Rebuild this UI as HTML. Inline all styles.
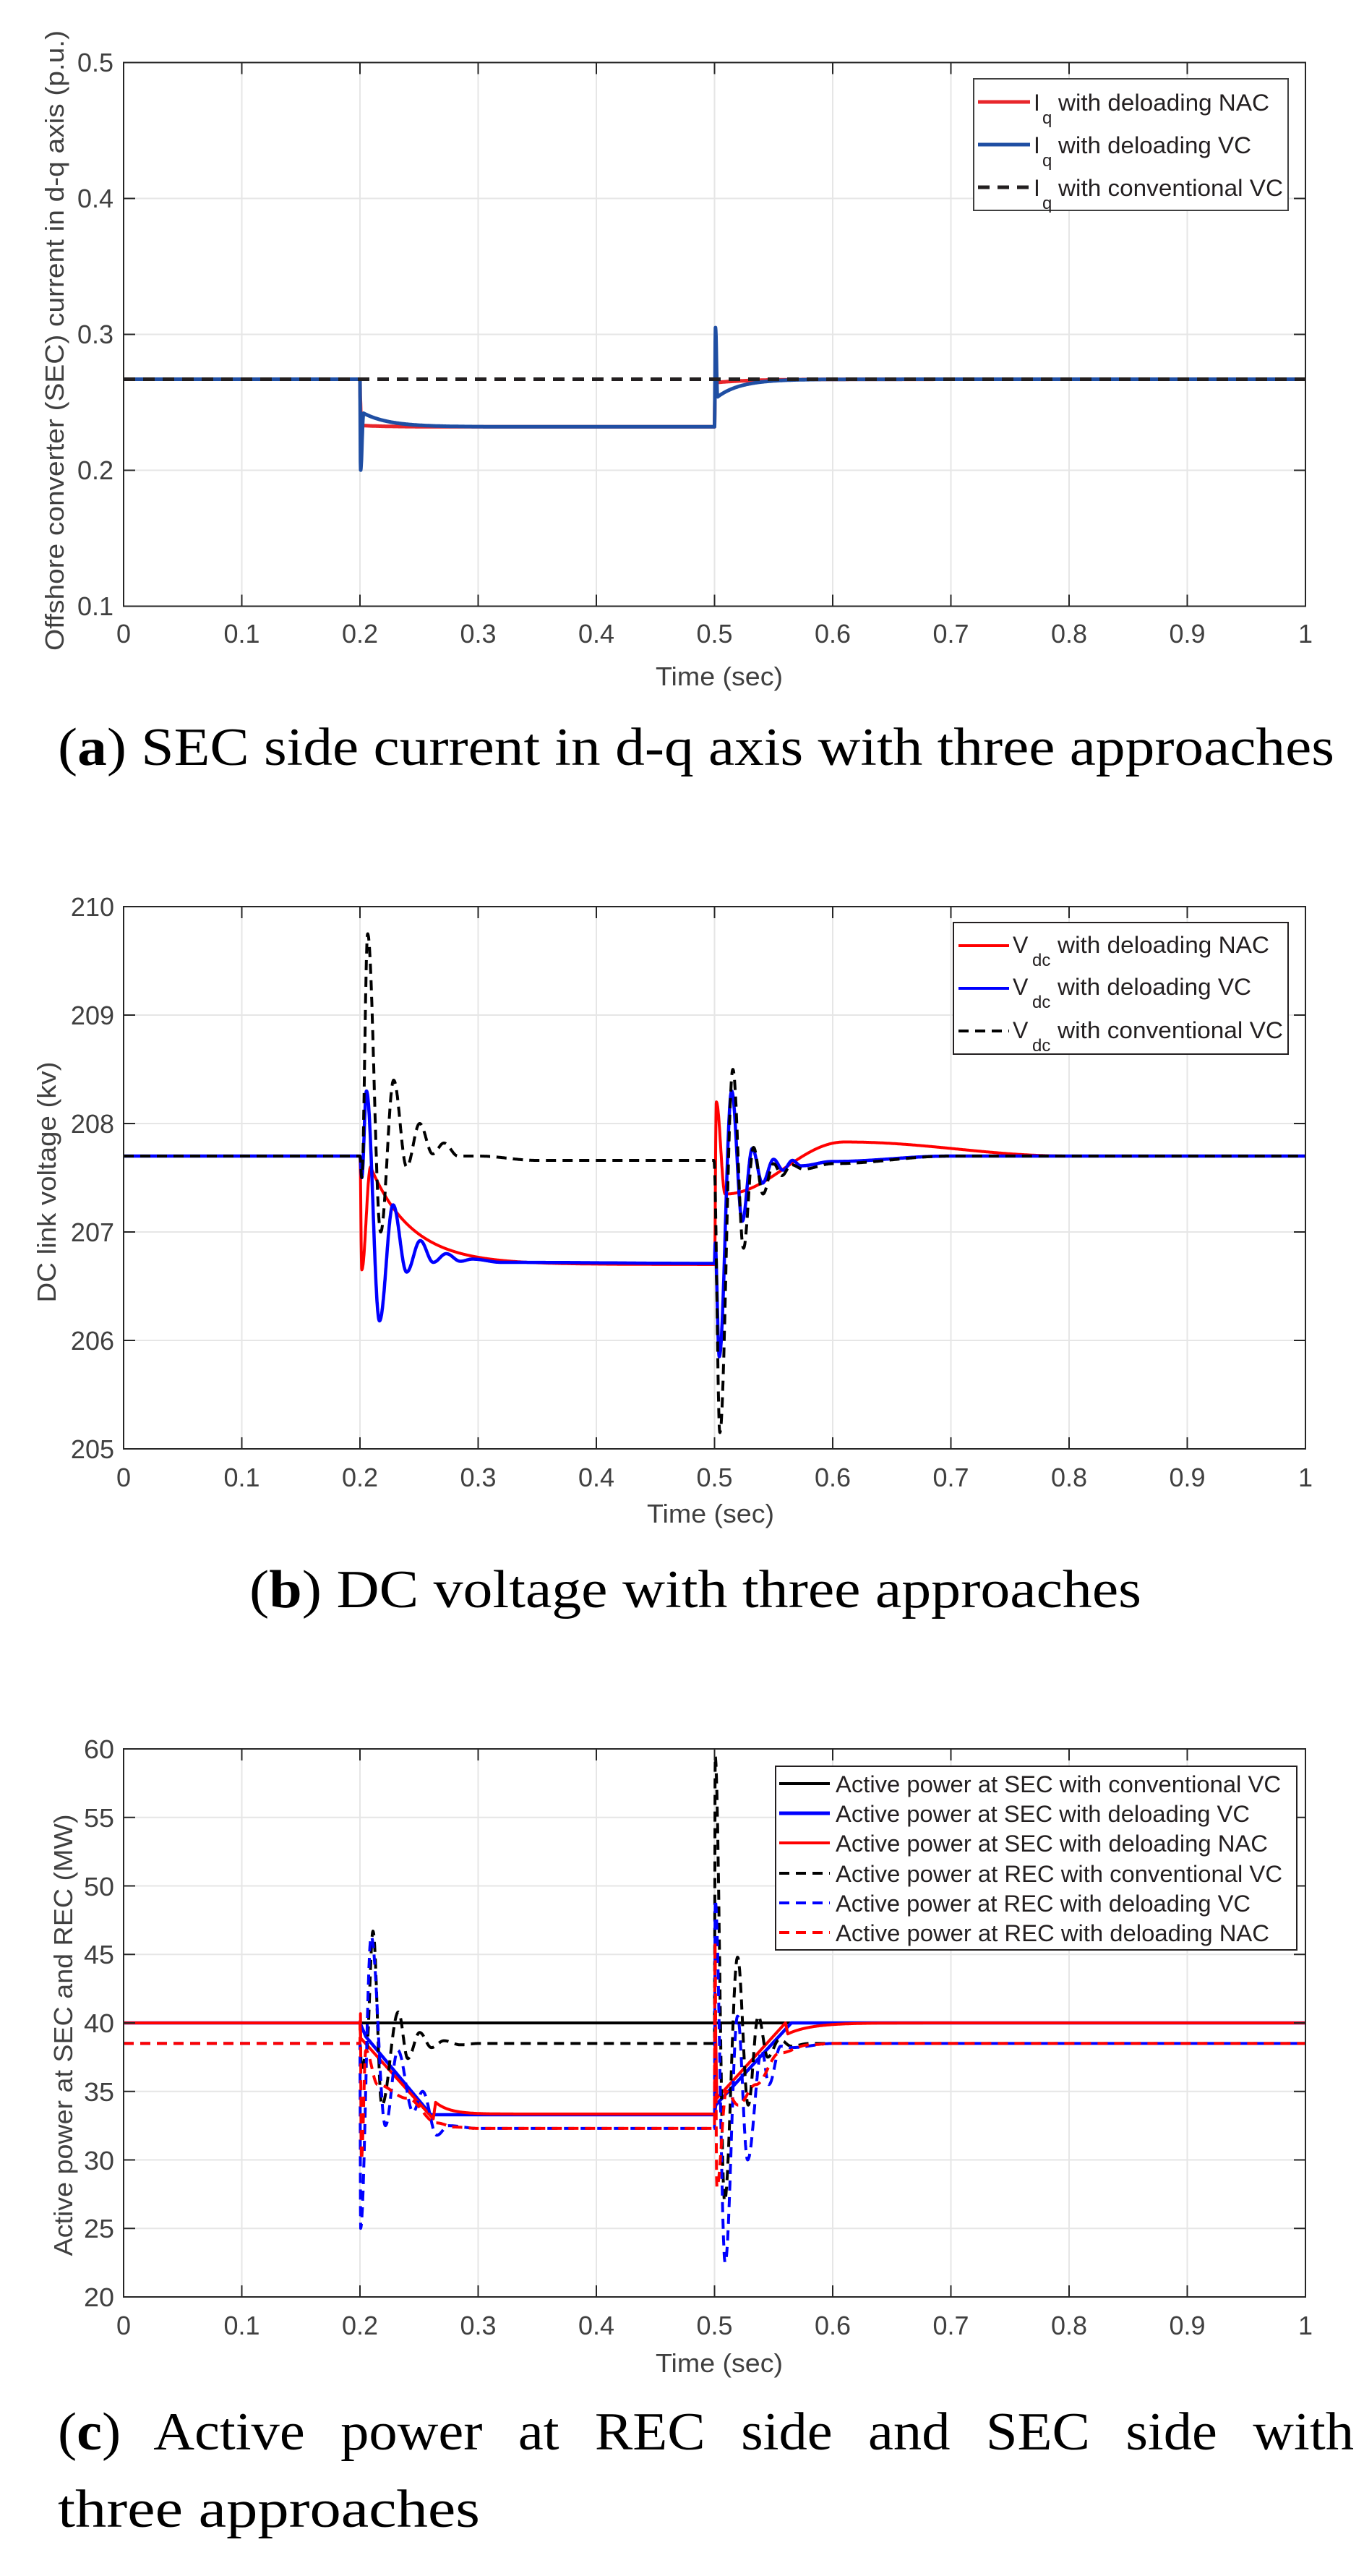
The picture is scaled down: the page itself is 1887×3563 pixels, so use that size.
<!DOCTYPE html>
<html><head><meta charset="utf-8"><style>
html,body{margin:0;padding:0;background:#fff;}
svg{display:block;}
.tk{font-family:"Liberation Sans",sans-serif;font-size:36px;fill:#404040;}
.lg{font-family:"Liberation Sans",sans-serif;font-size:32px;fill:#231f20;}
.cap{font-family:"Liberation Serif",serif;font-size:74px;fill:#000;}
</style></head><body>
<svg id="s" width="1887" height="3563" viewBox="0 0 1887 3563" xmlns="http://www.w3.org/2000/svg">
<g id="grid"></g>
<g id="series"></g>
<g id="axes"></g>

<!-- Plot 1 texts -->
<g class="tk" text-anchor="end">
<text x="157" y="99" textLength="50" lengthAdjust="spacingAndGlyphs">0.5</text>
<text x="157" y="287" textLength="50" lengthAdjust="spacingAndGlyphs">0.4</text>
<text x="157" y="475" textLength="50" lengthAdjust="spacingAndGlyphs">0.3</text>
<text x="157" y="663" textLength="50" lengthAdjust="spacingAndGlyphs">0.2</text>
<text x="157" y="851" textLength="50" lengthAdjust="spacingAndGlyphs">0.1</text>
</g>
<g class="tk" text-anchor="middle">
<text x="171" y="889">0</text>
<text x="334.5" y="889" textLength="50" lengthAdjust="spacingAndGlyphs">0.1</text>
<text x="498" y="889" textLength="50" lengthAdjust="spacingAndGlyphs">0.2</text>
<text x="661.5" y="889" textLength="50" lengthAdjust="spacingAndGlyphs">0.3</text>
<text x="825" y="889" textLength="50" lengthAdjust="spacingAndGlyphs">0.4</text>
<text x="988.5" y="889" textLength="50" lengthAdjust="spacingAndGlyphs">0.5</text>
<text x="1152" y="889" textLength="50" lengthAdjust="spacingAndGlyphs">0.6</text>
<text x="1315.5" y="889" textLength="50" lengthAdjust="spacingAndGlyphs">0.7</text>
<text x="1479" y="889" textLength="50" lengthAdjust="spacingAndGlyphs">0.8</text>
<text x="1642.5" y="889" textLength="50" lengthAdjust="spacingAndGlyphs">0.9</text>
<text x="1806" y="889">1</text>
<text x="995" y="948" textLength="176" lengthAdjust="spacingAndGlyphs">Time (sec)</text>
<text transform="translate(88,471) rotate(-90)" textLength="858" lengthAdjust="spacingAndGlyphs">Offshore converter (SEC) current in d-q axis (p.u.)</text>
</g>
<rect x="1347" y="109" width="435" height="182" fill="#fff" stroke="#404040" stroke-width="2"/>
<line x1="1353" y1="141" x2="1425" y2="141" stroke="#e8262b" stroke-width="5"/>
<line x1="1353" y1="200" x2="1425" y2="200" stroke="#1f4ea3" stroke-width="5"/>
<line x1="1353" y1="259" x2="1425" y2="259" stroke="#231f20" stroke-width="5" stroke-dasharray="16 11"/>
<g class="lg">
<text x="1430" y="153">I</text><text x="1442" y="171" font-size="24">q</text><text x="1464" y="153" textLength="292" lengthAdjust="spacingAndGlyphs">with deloading NAC</text>
<text x="1430" y="212">I</text><text x="1442" y="230" font-size="24">q</text><text x="1464" y="212" textLength="267" lengthAdjust="spacingAndGlyphs">with deloading VC</text>
<text x="1430" y="271">I</text><text x="1442" y="289" font-size="24">q</text><text x="1464" y="271" textLength="311" lengthAdjust="spacingAndGlyphs">with conventional VC</text>
</g>
<text class="cap" x="80" y="1058" textLength="1766" lengthAdjust="spacingAndGlyphs">(<tspan font-weight="bold">a</tspan>) SEC side current in d-q axis with three approaches</text>

<!-- Plot 2 texts -->
<g class="tk" text-anchor="end">
<text x="158" y="1267">210</text>
<text x="158" y="1417">209</text>
<text x="158" y="1567">208</text>
<text x="158" y="1717">207</text>
<text x="158" y="1867">206</text>
<text x="158" y="2017">205</text>
</g>
<g class="tk" text-anchor="middle">
<text x="171" y="2056">0</text>
<text x="334.5" y="2056">0.1</text>
<text x="498" y="2056">0.2</text>
<text x="661.5" y="2056">0.3</text>
<text x="825" y="2056">0.4</text>
<text x="988.5" y="2056">0.5</text>
<text x="1152" y="2056">0.6</text>
<text x="1315.5" y="2056">0.7</text>
<text x="1479" y="2056">0.8</text>
<text x="1642.5" y="2056">0.9</text>
<text x="1806" y="2056">1</text>
<text x="983" y="2106" textLength="176" lengthAdjust="spacingAndGlyphs">Time (sec)</text>
<text transform="translate(77,1635) rotate(-90)" textLength="333" lengthAdjust="spacingAndGlyphs">DC link voltage (kv)</text>
</g>
<rect x="1319" y="1276" width="463" height="182" fill="#fff" stroke="#231f20" stroke-width="2"/>
<line x1="1326" y1="1308" x2="1396" y2="1308" stroke="#ff0000" stroke-width="4"/>
<line x1="1326" y1="1367" x2="1396" y2="1367" stroke="#0000ff" stroke-width="4"/>
<line x1="1326" y1="1426" x2="1396" y2="1426" stroke="#000" stroke-width="4" stroke-dasharray="14 9"/>
<g class="lg">
<text x="1401" y="1318">V</text><text x="1428" y="1336" font-size="24">dc</text><text x="1463" y="1318" textLength="293" lengthAdjust="spacingAndGlyphs">with deloading NAC</text>
<text x="1401" y="1376">V</text><text x="1428" y="1394" font-size="24">dc</text><text x="1463" y="1376" textLength="268" lengthAdjust="spacingAndGlyphs">with deloading VC</text>
<text x="1401" y="1436">V</text><text x="1428" y="1454" font-size="24">dc</text><text x="1463" y="1436" textLength="312" lengthAdjust="spacingAndGlyphs">with conventional VC</text>
</g>
<text class="cap" x="345" y="2223" textLength="1234" lengthAdjust="spacingAndGlyphs">(<tspan font-weight="bold">b</tspan>) DC voltage with three approaches</text>

<!-- Plot 3 texts -->
<g class="tk" text-anchor="end">
<text x="158" y="2432" textLength="42" lengthAdjust="spacingAndGlyphs">60</text>
<text x="158" y="2527" textLength="42" lengthAdjust="spacingAndGlyphs">55</text>
<text x="158" y="2622" textLength="42" lengthAdjust="spacingAndGlyphs">50</text>
<text x="158" y="2716" textLength="42" lengthAdjust="spacingAndGlyphs">45</text>
<text x="158" y="2811" textLength="42" lengthAdjust="spacingAndGlyphs">40</text>
<text x="158" y="2906" textLength="42" lengthAdjust="spacingAndGlyphs">35</text>
<text x="158" y="3001" textLength="42" lengthAdjust="spacingAndGlyphs">30</text>
<text x="158" y="3095" textLength="42" lengthAdjust="spacingAndGlyphs">25</text>
<text x="158" y="3190" textLength="42" lengthAdjust="spacingAndGlyphs">20</text>
</g>
<g class="tk" text-anchor="middle">
<text x="171" y="3229">0</text>
<text x="334.5" y="3229" textLength="50" lengthAdjust="spacingAndGlyphs">0.1</text>
<text x="498" y="3229" textLength="50" lengthAdjust="spacingAndGlyphs">0.2</text>
<text x="661.5" y="3229" textLength="50" lengthAdjust="spacingAndGlyphs">0.3</text>
<text x="825" y="3229" textLength="50" lengthAdjust="spacingAndGlyphs">0.4</text>
<text x="988.5" y="3229" textLength="50" lengthAdjust="spacingAndGlyphs">0.5</text>
<text x="1152" y="3229" textLength="50" lengthAdjust="spacingAndGlyphs">0.6</text>
<text x="1315.5" y="3229" textLength="50" lengthAdjust="spacingAndGlyphs">0.7</text>
<text x="1479" y="3229" textLength="50" lengthAdjust="spacingAndGlyphs">0.8</text>
<text x="1642.5" y="3229" textLength="50" lengthAdjust="spacingAndGlyphs">0.9</text>
<text x="1806" y="3229">1</text>
<text x="995" y="3281" textLength="176" lengthAdjust="spacingAndGlyphs">Time (sec)</text>
<text transform="translate(100,2815) rotate(-90)" textLength="611" lengthAdjust="spacingAndGlyphs">Active power at SEC and REC (MW)</text>
</g>
<rect x="1073" y="2443" width="721" height="254" fill="#fff" stroke="#231f20" stroke-width="2"/>
<line x1="1078" y1="2467" x2="1148" y2="2467" stroke="#000" stroke-width="4"/>
<line x1="1078" y1="2508" x2="1148" y2="2508" stroke="#0000ff" stroke-width="5"/>
<line x1="1078" y1="2549" x2="1148" y2="2549" stroke="#ff0000" stroke-width="4"/>
<line x1="1078" y1="2591" x2="1148" y2="2591" stroke="#000" stroke-width="4" stroke-dasharray="14 9"/>
<line x1="1078" y1="2632" x2="1148" y2="2632" stroke="#0000ff" stroke-width="4" stroke-dasharray="14 9"/>
<line x1="1078" y1="2673" x2="1148" y2="2673" stroke="#ff0000" stroke-width="4" stroke-dasharray="14 9"/>
<g class="lg">
<text x="1156" y="2479" textLength="616" lengthAdjust="spacingAndGlyphs">Active power at SEC with conventional VC</text>
<text x="1156" y="2520" textLength="573" lengthAdjust="spacingAndGlyphs">Active power at SEC with deloading VC</text>
<text x="1156" y="2561" textLength="598" lengthAdjust="spacingAndGlyphs">Active power at SEC with deloading NAC</text>
<text x="1156" y="2603" textLength="618" lengthAdjust="spacingAndGlyphs">Active power at REC with conventional VC</text>
<text x="1156" y="2644" textLength="574" lengthAdjust="spacingAndGlyphs">Active power at REC with deloading VC</text>
<text x="1156" y="2685" textLength="600" lengthAdjust="spacingAndGlyphs">Active power at REC with deloading NAC</text>
</g>
<text class="cap" x="80" y="3388" textLength="1793" lengthAdjust="spacingAndGlyphs" word-spacing="28">(<tspan font-weight="bold">c</tspan>) Active power at REC side and SEC side with</text>
<text class="cap" x="80" y="3495" textLength="584" lengthAdjust="spacingAndGlyphs">three approaches</text>
</svg>
<script>
(function(){
var NS="http://www.w3.org/2000/svg";
var X0=171,X1=1806,W=X1-X0;
var P=[{top:86.5,bot:838.5,min:0.1,max:0.5,ticks:[0.1,0.2,0.3,0.4,0.5]},
{top:1254,bot:2004,min:205,max:210,ticks:[205,206,207,208,209,210]},
{top:2419,bot:3177,min:20,max:60,ticks:[20,25,30,35,40,45,50,55,60]}];
function el(tag,attrs,parent){var e=document.createElementNS(NS,tag);for(var k in attrs)e.setAttribute(k,attrs[k]);document.getElementById(parent).appendChild(e);return e;}
P.forEach(function(p){
 function Y(v){return p.top+(p.max-v)/(p.max-p.min)*(p.bot-p.top);}
 for(var i=1;i<10;i++){var x=X0+W*i/10;el("line",{x1:x,y1:p.top,x2:x,y2:p.bot,stroke:"#e6e6e6","stroke-width":2},"grid");
  el("line",{x1:x,y1:p.bot,x2:x,y2:p.bot-16,stroke:"#262626","stroke-width":2},"axes");
  el("line",{x1:x,y1:p.top,x2:x,y2:p.top+16,stroke:"#262626","stroke-width":2},"axes");}
 p.ticks.forEach(function(v){var y=Y(v);
  if(v>p.min&&v<p.max)el("line",{x1:X0,y1:y,x2:X1,y2:y,stroke:"#e6e6e6","stroke-width":2},"grid");
  el("line",{x1:X0,y1:y,x2:X0+16,y2:y,stroke:"#262626","stroke-width":2},"axes");
  el("line",{x1:X1,y1:y,x2:X1-16,y2:y,stroke:"#262626","stroke-width":2},"axes");});
 el("rect",{x:X0,y:p.top,width:W,height:p.bot-p.top,fill:"none",stroke:"#262626","stroke-width":2},"axes");
 p.Y=Y;
});
function K(pts){return function(t){if(t<=pts[0][0])return pts[0][1];for(var i=1;i<pts.length;i++){if(t<=pts[i][0]){var a=pts[i-1],b=pts[i];var u=(t-a[0])/(b[0]-a[0]);return a[1]+(b[1]-a[1])*(1-Math.cos(Math.PI*u))/2;}}return pts[pts.length-1][1];};}
function L(pts){return function(t){if(t<=pts[0][0])return pts[0][1];for(var i=1;i<pts.length;i++){if(t<=pts[i][0]){var a=pts[i-1],b=pts[i];var u=(t-a[0])/(b[0]-a[0]);return a[1]+(b[1]-a[1])*u;}}return pts[pts.length-1][1];};}
function draw(p,f,color,w,dash){var d="";for(var t=0;t<=1.00001;t+=0.0002){var x=X0+W*t,y=p.Y(f(t));d+=(d?"L":"M")+x.toFixed(1)+" "+y.toFixed(1);}
 var a={d:d,fill:"none",stroke:color,"stroke-width":w,"stroke-linejoin":"round"};if(dash)a["stroke-dasharray"]=dash;el("path",a,"series");}
var E=Math.exp;
var p1=P[0];
var r1k=K([[.2,.267],[.2003,.25],[.201,.233]]);
draw(p1,function(t){if(t<.2)return .267;if(t<.201)return r1k(t);if(t<.5)return .232+.001*E(-(t-.201)/.02);if(t<.5005)return .232+(t-.5)/.0005*.033;return .267-.0025*E(-(t-.5005)/.03);},"#e8262b",5);
var b1a=K([[.2,.267],[.2005,.2],[.203,.242]]),b1b=K([[.5,.232],[.5008,.305],[.5025,.254]]);
draw(p1,function(t){if(t<.2)return .267;if(t<.203)return b1a(t);if(t<.5)return .232+.010*E(-(t-.203)/.022);if(t<.5025)return b1b(t);return .267-.013*E(-(t-.5025)/.02);},"#1f4ea3",5);
draw(p1,function(t){return .267;},"#231f20",5,"16 11");
var p2=P[1];
var r2a=K([[.2,207.7],[.2015,206.65],[.209,207.6]]),r2b=K([[.5,206.7],[.5015,208.2],[.509,207.35],[.61,207.83],[.8,207.7]]);
draw(p2,function(t){if(t<.2)return 207.7;if(t<.209)return r2a(t);if(t<.5)return 206.7+.9*E(-(t-.209)/.035);return r2b(t);},"#ff0000",4);
draw(p2,K([[0,207.7],[.2,207.7],[.2015,207.5],[.2055,208.3],[.2165,206.18],[.228,207.25],[.2395,206.63],[.251,206.92],[.262,206.72],[.273,206.8],[.285,206.73],[.295,206.75],[.32,206.72],[.5,206.71],[.5005,206.9],[.504,205.85],[.5145,208.3],[.5235,207.1],[.532,207.77],[.5405,207.45],[.55,207.67],[.558,207.57],[.566,207.66],[.573,207.61],[.6,207.65],[.7,207.7],[1,207.7]]),"#0000ff",4.5);
draw(p2,K([[0,207.7],[.2,207.7],[.2015,207.5],[.2065,209.75],[.2175,207.0],[.2285,208.4],[.2395,207.6],[.2505,208.0],[.2615,207.72],[.271,207.82],[.283,207.7],[.3,207.7],[.35,207.66],[.4995,207.66],[.5045,205.15],[.5155,208.5],[.5245,206.85],[.533,207.78],[.541,207.35],[.55,207.63],[.557,207.52],[.565,207.62],[.575,207.58],[.6,207.63],[.7,207.7],[1,207.7]]),"#000",4,"14 9");
var p3=P[2];
draw(p3,function(){return 40;},"#000",4);
draw(p3,L([[0,40],[.2,40],[.205,39],[.26,33.3],[.5,33.3],[.501,34],[.565,40],[1,40]]),"#0000ff",4.5);
var r3a=L([[.2,40],[.2005,38.9],[.262,33],[.264,34.2]]),r3b=L([[.5,33.3],[.5005,41],[.502,34.5],[.56,40],[.562,39.2]]);
draw(p3,function(t){if(t<.2)return 40;if(t<.264)return r3a(t);if(t<.5)return 33.35+.85*E(-(t-.264)/.012);if(t<.562)return r3b(t);return 40-.8*E(-(t-.562)/.02);},"#ff0000",4);
draw(p3,K([[0,38.5],[.2,38.5],[.2015,36.5],[.2055,38],[.211,46.7],[.2185,34],[.2325,40.8],[.2405,37.4],[.2505,39.3],[.2605,38.2],[.271,38.7],[.285,38.4],[.3,38.5],[.5,38.5],[.5005,59.5],[.5085,27],[.5195,44.8],[.5285,34],[.537,40.5],[.545,37.5],[.555,38.8],[.565,38.3],[.58,38.5],[1,38.5]]),"#000",4,"14 9");
draw(p3,K([[0,38.5],[.2,38.5],[.2005,25],[.2095,46.3],[.2215,32.5],[.232,38],[.245,33.5],[.253,35],[.265,31.8],[.275,32.5],[.3,32.3],[.5,32.3],[.5005,49],[.509,22.5],[.5195,40.5],[.528,30],[.54,38],[.546,35.5],[.556,38.3],[.565,38.2],[.6,38.5],[1,38.5]]),"#0000ff",4,"14 9");
draw(p3,K([[0,38.5],[.2,38.5],[.2003,41],[.2012,30],[.205,38],[.215,35.5],[.24,34.5],[.265,32.7],[.28,32.4],[.3,32.3],[.5,32.3],[.5003,46],[.502,28],[.51,35],[.52,34],[.535,35.5],[.555,37.8],[.58,38.4],[.6,38.5],[1,38.5]]),"#ff0000",4,"14 9");
})();
</script>
</body></html>
